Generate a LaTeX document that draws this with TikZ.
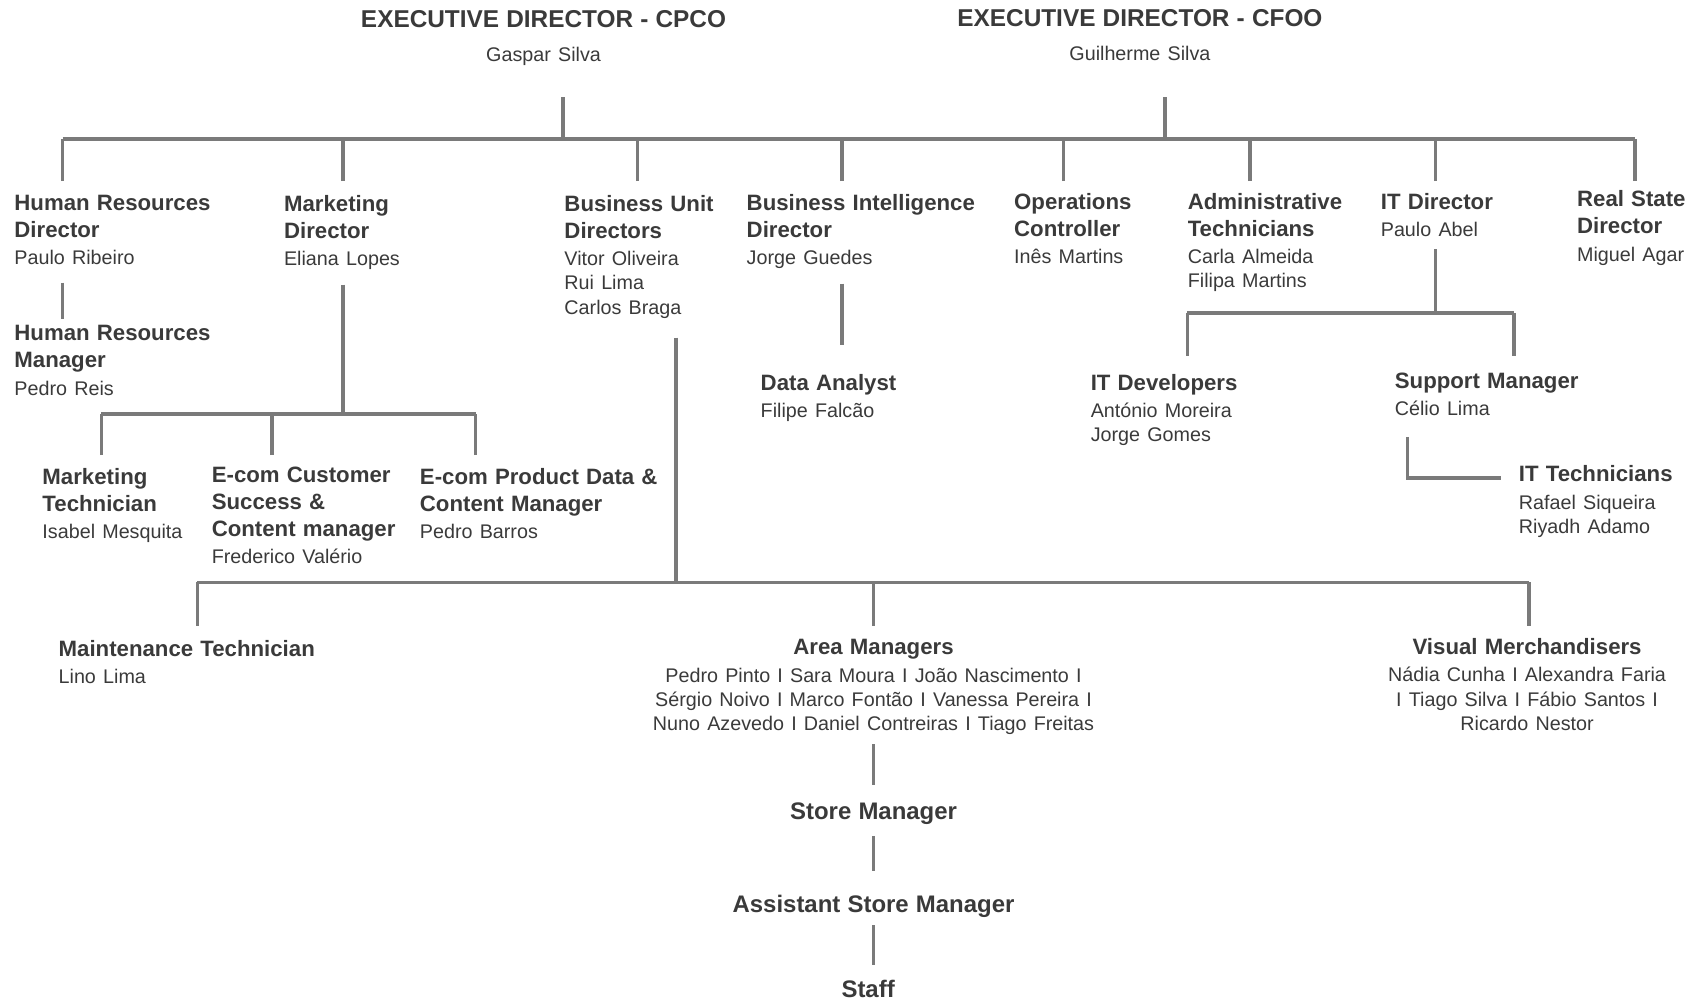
\documentclass[tikz,border=0pt]{standalone}
\usepackage{fontspec}
\setmainfont{Liberation Sans}
\usepackage{tikz}
\usetikzlibrary{positioning}

\definecolor{txt}{HTML}{3A3A3A}
\definecolor{ln}{HTML}{7A7A7A}

\newcommand\hd{\bfseries\fontsize{11.3}{13}\selectfont}
\newcommand\rl{\bfseries\fontsize{10.3}{12.5}\selectfont}
\newcommand\st{\bfseries\fontsize{11.1}{13}\selectfont}
\newcommand\nm{\fontsize{9.15}{11.25}\selectfont}
\newcommand\orgentry[2]{{\rl #1\par}\vspace{1.4pt}{\nm #2\par}}

\tikzset{
  post/.style={anchor=north west, inner sep=0pt, text width=150pt, align=left, text=txt},
  cpost/.style={anchor=north, inner sep=0pt, text width=#1, align=center, text=txt},
  link/.style={draw=ln, line width=1.7pt},
}

\begin{document}
\begin{tikzpicture}[x=0.5pt,y=-0.5pt]
    \useasboundingbox (0,0) rectangle (1568,928);

    % executive directors
    \node[cpost=200pt] (cpco) at (504,9) {{\hd EXECUTIVE DIRECTOR - CPCO\par}\vspace{4.5pt}{\nm Gaspar Silva\par}};
    \node[cpost=200pt] (cfoo) at (1057,8) {{\hd EXECUTIVE DIRECTOR - CFOO\par}\vspace{4.5pt}{\nm Guilherme Silva\par}};

    % directors
    \node[post] (hrd) at (13,180.6) {\orgentry{Human Resources\\Director}{Paulo Ribeiro}};
    \node[post] (mkd) at (263,180.6) {\orgentry{Marketing\\Director}{Eliana Lopes}};
    \node[post] (bud) at (523,180.6) {\orgentry{Business Unit\\Directors}{Vitor Oliveira\\Rui Lima\\Carlos Braga}};
    \node[post] (bid) at (692,179.6) {\orgentry{Business Intelligence\\Director}{Jorge Guedes}};
    \node[post] (opc) at (940,178.6) {\orgentry{Operations\\Controller}{Inês Martins}};
    \node[post] (adm) at (1101,178.6) {\orgentry{Administrative\\Technicians}{Carla Almeida\\Filipa Martins}};
    \node[post] (itd) at (1280,178.6) {\orgentry{IT Director}{Paulo Abel}};
    \node[post] (rsd) at (1462,176.6) {\orgentry{Real State\\Director}{Miguel Agar}};

    % second level
    \node[post] (hrm) at (13,301.6) {\orgentry{Human Resources\\Manager}{Pedro Reis}};
    \node[post] (mkt) at (39,433.6) {\orgentry{Marketing\\Technician}{Isabel Mesquita}};
    \node[post] (ecs) at (196,432.6) {\orgentry{E-com Customer\\Success \&\\Content manager}{Frederico Valério}};
    \node[post] (epd) at (389,433.6) {\orgentry{E-com Product Data \&\\Content Manager}{Pedro Barros}};
    \node[post] (dan) at (705,346.6) {\orgentry{Data Analyst}{Filipe Falcão}};
    \node[post] (itv) at (1011,346.6) {\orgentry{IT Developers}{António Moreira\\Jorge Gomes}};
    \node[post] (sup) at (1293,345.6) {\orgentry{Support Manager}{Célio Lima}};
    \node[post] (itt) at (1408,431.6) {\orgentry{IT Technicians}{Rafael Siqueira\\Riyadh Adamo}};

    % stores
    \node[post] (mnt) at (54,593.6) {\orgentry{Maintenance Technician}{Lino Lima}};
    \node[cpost=240pt] (arm) at (810,592.6) {\orgentry{Area Managers}{Pedro Pinto I Sara Moura I João Nascimento I\\Sérgio Noivo I Marco Fontão I Vanessa Pereira I\\Nuno Azevedo I Daniel Contreiras I Tiago Freitas}};
    \node[cpost=150pt] (vis) at (1416,591.6) {\orgentry{Visual Merchandisers}{Nádia Cunha I Alexandra Faria\\I Tiago Silva I Fábio Santos I\\Ricardo Nestor}};
    \node[cpost=150pt] (stm) at (810,744) {\st Store Manager};
    \node[cpost=150pt] (asm) at (810,830) {\st Assistant Store Manager};
    \node[cpost=150pt] (stf) at (805,908) {\st Staff};

    % connector end points
    \coordinate (top) at (0,129);
    \coordinate (cpco-dn) at (522,90);
    \coordinate (cfoo-dn) at (1080,90);
    \coordinate (hrd-up) at (58,168);
    \coordinate (mkd-up) at (318,168);
    \coordinate (bud-up) at (591,168);
    \coordinate (bid-up) at (781,168);
    \coordinate (opc-up) at (986,168);
    \coordinate (adm-up) at (1159,168);
    \coordinate (itd-up) at (1331,168);
    \coordinate (rsd-up) at (1516,168);

    \coordinate (hrd-dn) at (58,262);
    \coordinate (hrm-up) at (58,296);

    \coordinate (mkd-dn) at (318,264);
    \coordinate (mbar) at (0,384);
    \coordinate (mkt-up) at (94,422);
    \coordinate (ecs-up) at (252,422);
    \coordinate (epd-up) at (441,422);

    \coordinate (bid-dn) at (781,263);
    \coordinate (dan-up) at (781,320);

    \coordinate (itd-dn) at (1331,231);
    \coordinate (itbar) at (0,290);
    \coordinate (itv-up) at (1101,330);
    \coordinate (sup-up) at (1404,330);
    \coordinate (sup-dn) at (1305,405);
    \coordinate (itt-in) at (1392,443);

    \coordinate (bud-dn) at (627,313);
    \coordinate (bbar) at (0,540);
    \coordinate (mnt-up) at (183,580);
    \coordinate (arm-up) at (810,580);
    \coordinate (vis-up) at (1418,580);

    \coordinate (arm-dn) at (810,690);
    \coordinate (stm-up) at (810,728);
    \coordinate (stm-dn) at (810,775);
    \coordinate (asm-up) at (810,808);
    \coordinate (asm-dn) at (810,858);
    \coordinate (stf-up) at (810,895);

    % top bar
    \draw[link] (cpco-dn) -- (cpco-dn |- top);
    \draw[link] (cfoo-dn) -- (cfoo-dn |- top);
    \draw[link] (hrd-up |- top) -- (rsd-up |- top);
    \foreach \n in {hrd,mkd,bud,bid,opc,adm,itd,rsd}
        \draw[link] (\n-up) -- (\n-up |- top);

    % human resources
    \draw[link] (hrd-dn) -- (hrm-up);

    % marketing
    \draw[link] (mkd-dn) -- (mkd-dn |- mbar);
    \draw[link] (mkt-up |- mbar) -- (epd-up |- mbar);
    \foreach \n in {mkt,ecs,epd}
        \draw[link] (\n-up) -- (\n-up |- mbar);

    % business intelligence
    \draw[link] (bid-dn) -- (dan-up);

    % IT
    \draw[link] (itd-dn) -- (itd-dn |- itbar);
    \draw[link] (itv-up |- itbar) -- (sup-up |- itbar);
    \foreach \n in {itv,sup}
        \draw[link] (\n-up) -- (\n-up |- itbar);
    \draw[link] (sup-dn) |- (itt-in);

    % business units
    \draw[link] (bud-dn) -- (bud-dn |- bbar);
    \draw[link] (mnt-up |- bbar) -- (vis-up |- bbar);
    \foreach \n in {mnt,arm,vis}
        \draw[link] (\n-up) -- (\n-up |- bbar);

    % stores
    \draw[link] (arm-dn) -- (stm-up);
    \draw[link] (stm-dn) -- (asm-up);
    \draw[link] (asm-dn) -- (stf-up);
\end{tikzpicture}
\end{document}
